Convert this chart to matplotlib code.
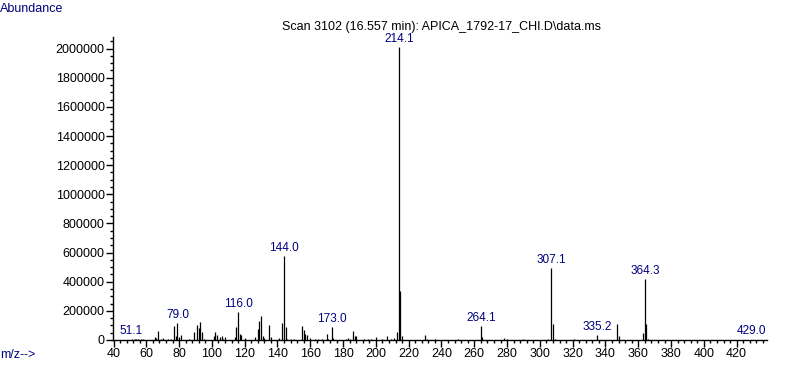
import numpy as np
import matplotlib.pyplot as plt
from matplotlib.ticker import MultipleLocator

# Spektrum massa (m/z, abundance)
mz = [51, 53, 54, 55, 57, 58, 63, 65, 66, 67, 69, 70, 73, 75, 77, 78, 79, 80, 81,
      86, 89, 91, 92, 93, 94, 95, 101, 102, 103, 105, 106, 107, 108, 114, 115, 116,
      117, 118, 120, 126, 128, 129, 130, 131, 132, 135, 136, 141, 143, 144, 145, 146,
      148, 150, 155, 156, 157, 158, 160, 163, 165, 167, 170, 171, 173, 174, 182, 183,
      184, 186, 187, 188, 193, 195, 197, 200, 204, 207, 209, 211, 213, 214, 215, 216,
      230, 231, 236, 250, 264, 265, 278, 280, 290, 305, 307, 308, 309, 321, 335, 347,
      348, 363, 364, 365, 366, 429]
abundance = [6000, 4000, 7000, 5000, 6000, 4000, 3000, 18000, 12000, 62000, 8000, 15000,
             5000, 6000, 96000, 27000, 119000, 18000, 34000, 6000, 55000, 100000, 80000,
             123000, 53000, 10000, 27000, 55000, 34000, 18000, 27000, 8000, 23000, 18000,
             87000, 194000, 41000, 37000, 14000, 18000, 75000, 130000, 165000, 27000, 12000,
             103000, 18000, 12000, 117000, 575000, 89000, 10000, 8000, 10000, 96000, 69000,
             39000, 34000, 12000, 6000, 8000, 10000, 41000, 10000, 89000, 15000, 10000,
             14000, 10000, 62000, 27000, 27000, 8000, 10000, 8000, 18000, 10000, 27000,
             10000, 12000, 57000, 2010000, 338000, 27000, 34000, 10000, 6000, 6000, 96000,
             20000, 16000, 10000, 6000, 10000, 492000, 110000, 10000, 6000, 34000, 110000,
             27000, 50000, 416000, 110000, 10000, 3000]

# Puncak yang diberi label
label_mz = [51, 79, 116, 144, 173, 214, 264, 307, 335, 364, 429]
label_teks = ['51.1', '79.0', '116.0', '144.0', '173.0', '214.1', '264.1', '307.1',
              '335.2', '364.3', '429.0']

navy = '#000080'

fig = plt.figure(figsize=(7.87, 3.67), dpi=100)
ax = fig.add_axes([0.1436, 0.0736, 0.8310, 0.8256])

ax.vlines(mz, 0, abundance, color='black', linewidth=0.9)

lookup = dict(zip(mz, abundance))
for m, t in zip(label_mz, label_teks):
    ax.annotate(t, (m, lookup[m]), xytext=(0, 1.5), textcoords='offset points',
                ha='center', va='bottom', color=navy, fontsize=8.5,
                family='Liberation Sans')

ax.set_xlim(39.7, 438.5)
ax.set_ylim(0, 2.08e6)

ax.xaxis.set_major_locator(MultipleLocator(20))
ax.xaxis.set_minor_locator(MultipleLocator(4))
ax.yaxis.set_major_locator(MultipleLocator(200000))
ax.yaxis.set_minor_locator(MultipleLocator(50000))
ax.set_xticks(np.arange(40, 421, 20))
ax.set_yticks(np.arange(0, 2000001, 200000))
ax.set_yticklabels([str(v) for v in range(0, 2000001, 200000)])

ax.tick_params(which='major', direction='out', length=5, width=1, pad=1,
               labelsize=9, labelfontfamily='Liberation Sans')
ax.tick_params(which='minor', direction='out', length=2.5, width=1)

for s in ['top', 'right']:
    ax.spines[s].set_visible(False)
for s in ['left', 'bottom']:
    ax.spines[s].set_linewidth(1)

fig.text(0.0, 0.975, 'Abundance', color=navy, fontsize=9, family='Liberation Sans',
         ha='left', va='center')
fig.text(0.0, 0.033, 'm/z-->', color=navy, fontsize=9, family='Liberation Sans',
         ha='left', va='center')
fig.text(0.561, 0.926, r'Scan 3102 (16.557 min): APICA_1792-17_CHI.D\data.ms',
         color='black', fontsize=9, family='Liberation Sans', ha='center', va='center')

fig.savefig('out.png', dpi=100)
